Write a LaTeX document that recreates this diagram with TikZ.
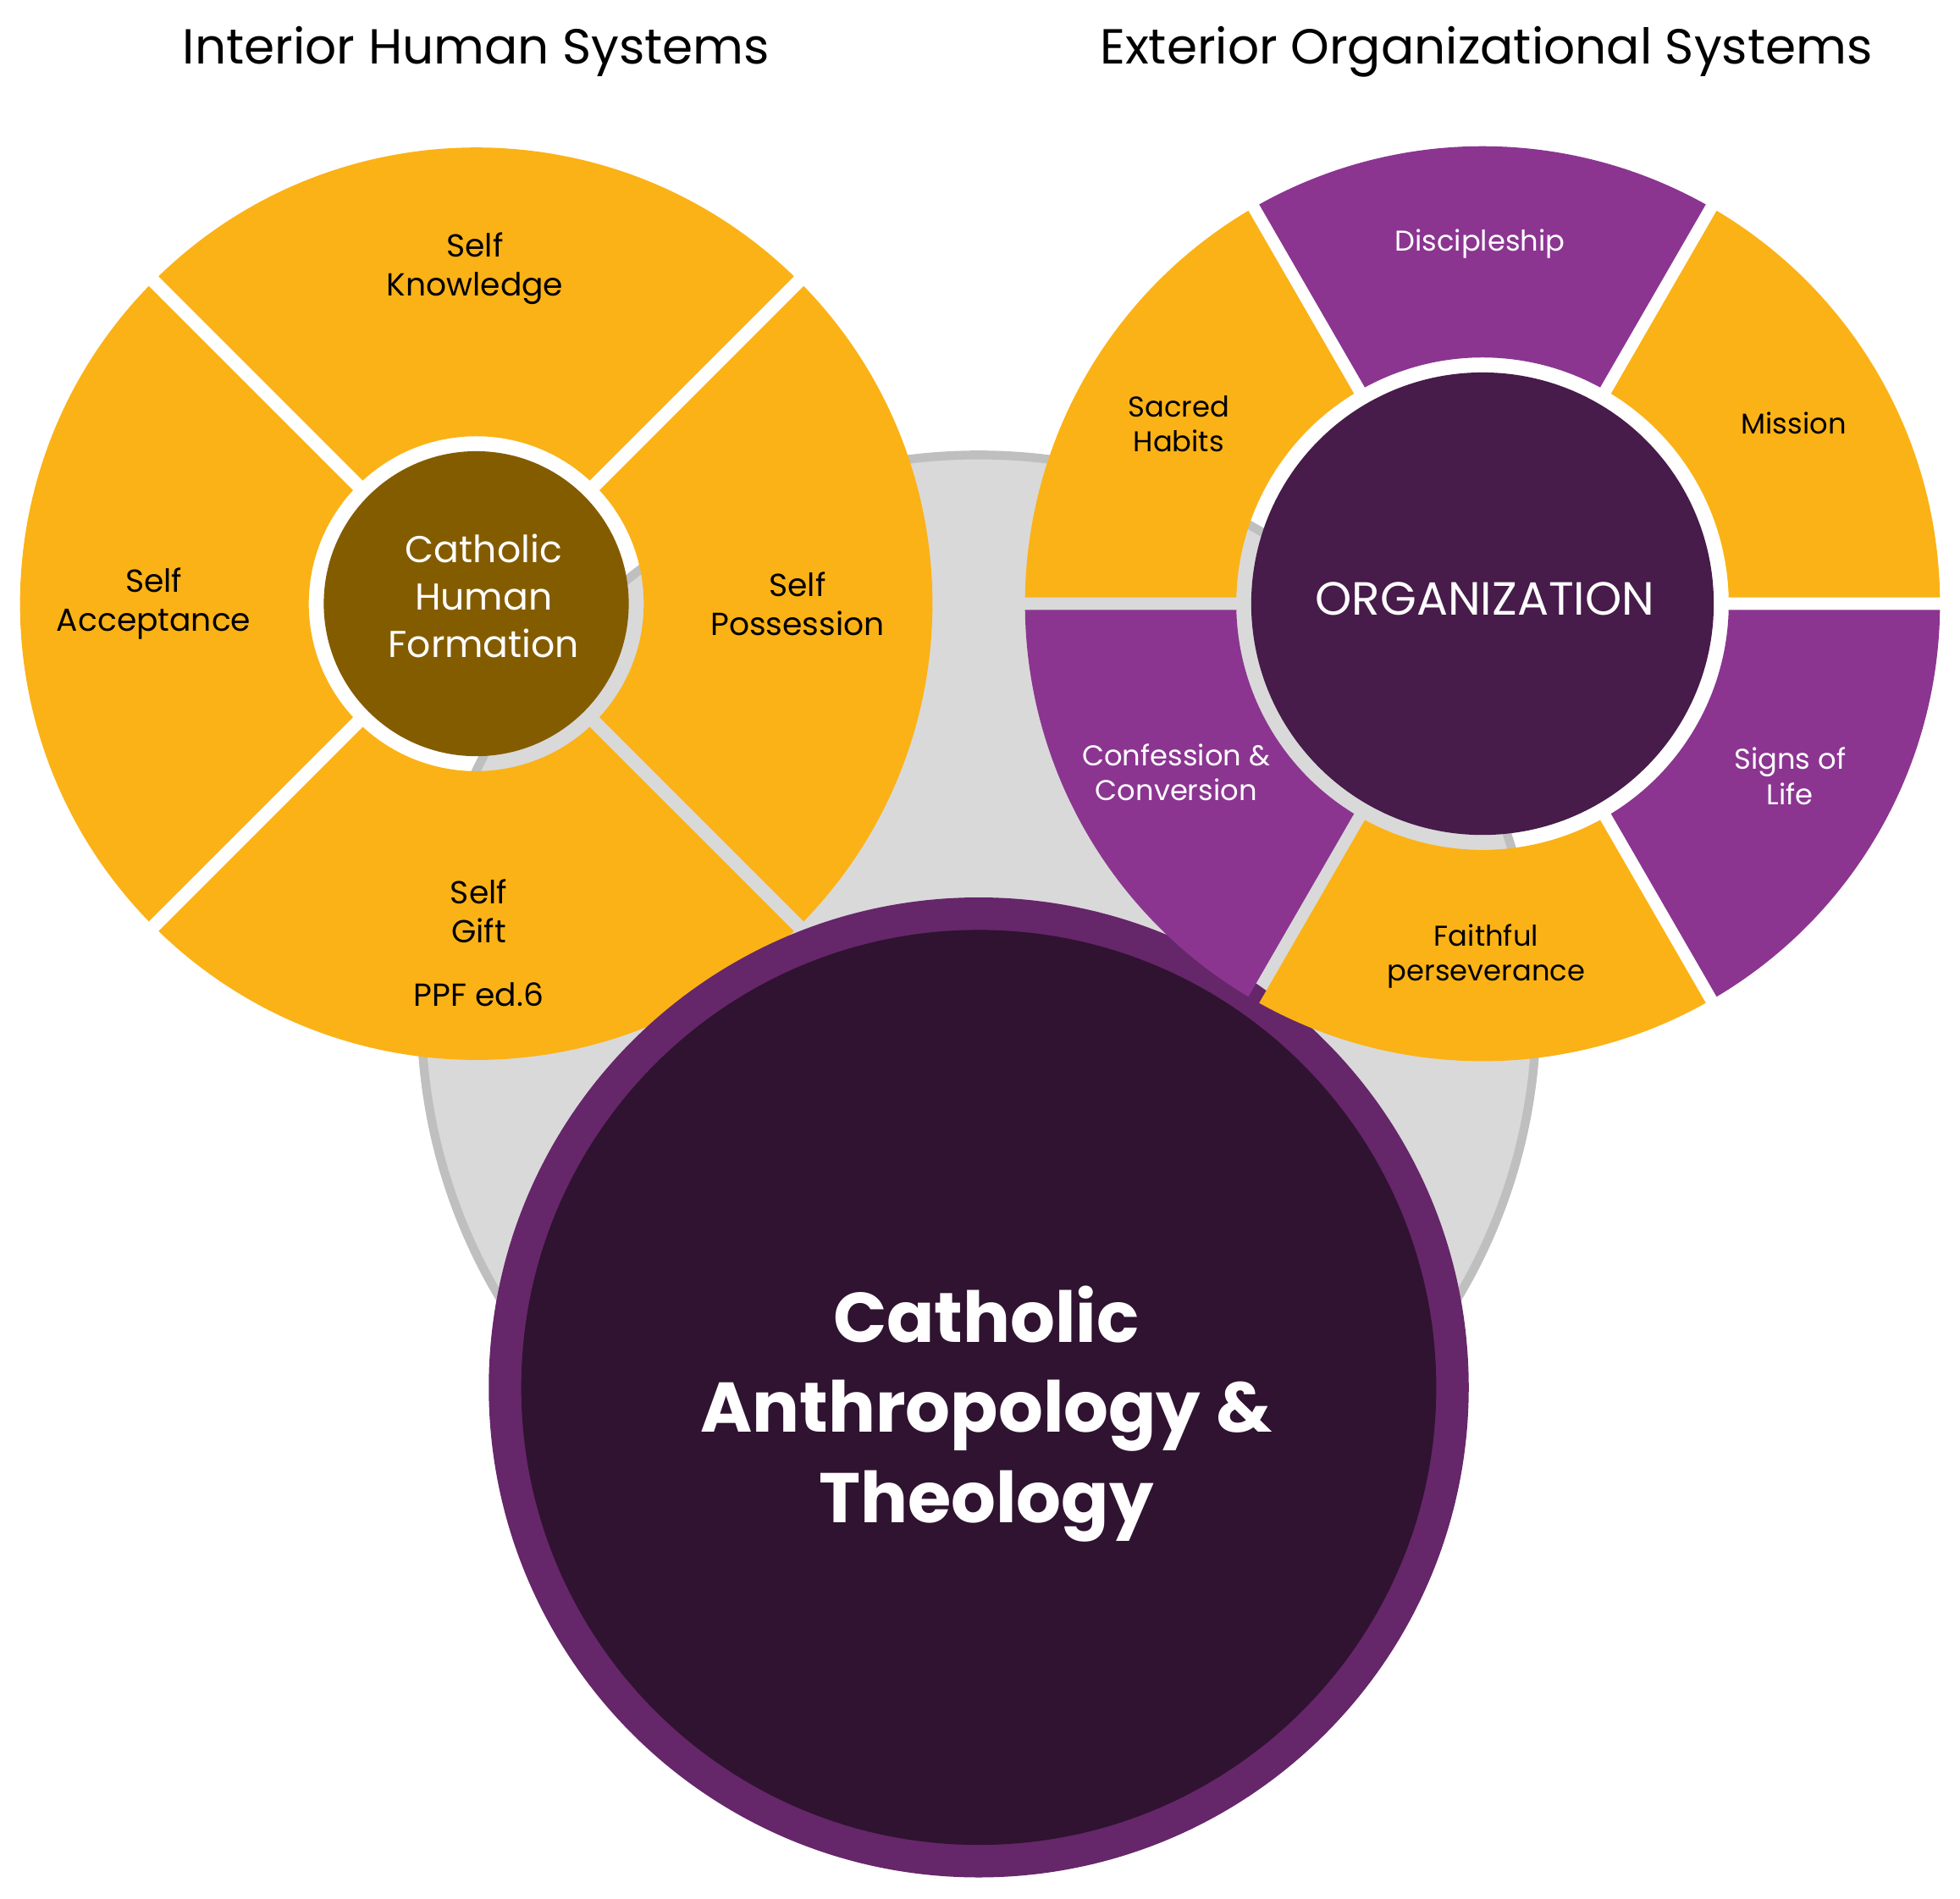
\documentclass[tikz,border=0pt]{standalone}
\usepackage{fontspec}
\setmainfont{Poppins}
\definecolor{ringgold}{HTML}{FBB216}
\definecolor{ringpurple}{HTML}{8B3591}
\definecolor{hubbrown}{HTML}{845C00}
\definecolor{hubplum}{HTML}{471B4A}
\definecolor{backgray}{HTML}{D9D9D9}
\definecolor{edgegray}{HTML}{BFBFBF}
\definecolor{corerim}{HTML}{66266A}
\definecolor{corefill}{HTML}{2F1330}

\begin{document}
\begin{tikzpicture}[
  x=0.01cm,y=0.01cm,
  titletext/.style={anchor=base,font=\fontsize{11.2pt}{13pt}\selectfont},
  humantext/.style={align=center,font=\fontsize{7.25pt}{8.8pt}\selectfont},
  hubtext/.style={align=center,text=white,font=\fontsize{8.5pt}{10.8pt}\selectfont},
  orgtext/.style={align=center,font=\fontsize{6.5pt}{8pt}\selectfont},
  coretext/.style={align=center,text=white,
                   font=\bfseries\fontsize{16pt}{20.5pt}\selectfont}
]
\useasboundingbox (0,0) rectangle (1568,1519);

\path[fill=backgray,draw=edgegray,line width=2pt] (783,709) circle[radius=446];

\node[titletext] (tInt) at (381,1468) {Interior Human Systems};
\node[titletext] (tExt) at (1189,1468) {Exterior Organizational Systems};

\begin{scope}[shift={(381,1036)}]
  \foreach \a in {45,135,225,315}
    \path[fill=ringgold]
      ({\a+asin(5.5/365)}:365)
      arc[start angle={\a+asin(5.5/365)},end angle={\a+90-asin(5.5/365)},radius=365]
      -- ({\a+90-asin(5.5/134)}:134)
      arc[start angle={\a+90-asin(5.5/134)},end angle={\a+asin(5.5/134)},radius=134]
      -- cycle;
  \fill[hubbrown] (0,0) circle[radius=122];
  \node[hubtext] (chf) at (6,6) {Catholic\\Human\\Formation};
  \node[humantext] (know) at (-1,268) {Self\\Knowledge};
  \node[humantext] (accept) at (-258,0) {Self\\Acceptance};
  \node[humantext] (possess) at (257,0) {Self\\Possession};
  \node[humantext] (gift) at (2,-246) {Self\\Gift};
  \node[humantext,anchor=base] (ppf) at (2,-322) {PPF ed.6};
\end{scope}

\fill[corerim] (783,409) circle[radius=392];
\fill[corefill] (783,409) circle[radius=366];
\node[coretext] (cat) at (789,388) {Catholic\\Anthropology \&\\Theology};

\begin{scope}[shift={(1186,1036)}]
  \foreach \a/\c in {0/ringgold,60/ringpurple,120/ringgold,
                     180/ringpurple,240/ringgold,300/ringpurple}
    \path[fill=\c]
      ({\a+asin(5/366)}:366)
      arc[start angle={\a+asin(5/366)},end angle={\a+60-asin(5/366)},radius=366]
      -- ({\a+60-asin(5/197)}:197)
      arc[start angle={\a+60-asin(5/197)},end angle={\a+asin(5/197)},radius=197]
      -- cycle;
  \fill[hubplum] (0,0) circle[radius=185];
  \node[orgtext,text=white,anchor=base,font=\fontsize{10.6pt}{12pt}\selectfont]
    (org) at (2,-9) {ORGANIZATION};
  \node[orgtext,text=white,anchor=base] (disc) at (-2,282) {Discipleship};
  \node[orgtext] (habits) at (-243,144) {Sacred\\Habits};
  \node[orgtext,anchor=base] (mission) at (249,136) {Mission};
  \node[orgtext,text=white] (confess) at (-245,-135) {Confession \&\\Conversion};
  \node[orgtext,text=white] (signs) at (246,-138) {Signs of\\Life};
  \node[orgtext] (faith) at (3,-282) {Faithful\\perseverance};
\end{scope}
\end{tikzpicture}
\end{document}
